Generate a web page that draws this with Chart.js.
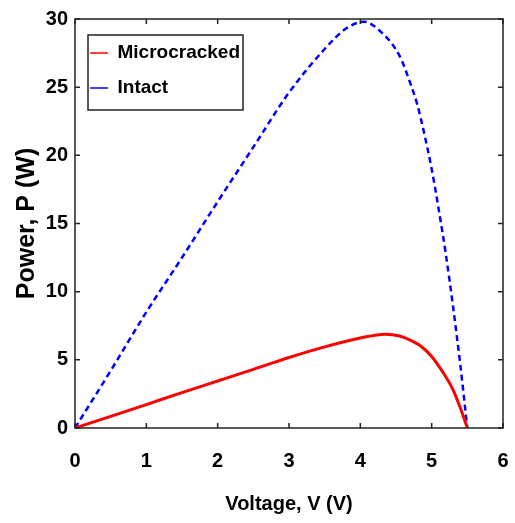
<!DOCTYPE html>
<html>
<head>
    <meta charset="utf-8">
    <title>Power vs Voltage</title>
    <script src="https://cdn.jsdelivr.net/npm/chart.js"></script>
    <style>
        body { margin: 0; background: #fff; }
        canvas { display: block; }
    </style>
</head>
<body>
    <canvas id="pvChart" width="515" height="523"></canvas>

    <script>
        // P-V curves
        const crackedV = [0, 0.5, 1.0, 1.5, 2.0, 2.5, 3.0, 3.5, 4.0, 4.35, 4.55, 4.7, 4.85, 5.0, 5.15, 5.3, 5.4, 5.5];
        const crackedP = [0, 0.85, 1.72, 2.6, 3.45, 4.3, 5.17, 5.95, 6.6, 6.88, 6.75, 6.45, 6.0, 5.25, 4.15, 2.8, 1.5, 0];

        const intactV = [0, 0.5, 1.0, 1.5, 2.0, 2.5, 3.0, 3.5, 3.8, 4.05, 4.3, 4.55, 4.7, 4.8, 4.9, 5.0, 5.1, 5.2, 5.3, 5.4, 5.5];
        const intactP = [0, 4.2, 8.5, 12.5, 16.6, 20.6, 24.6, 27.8, 29.3, 29.8, 29.0, 27.3, 25.3, 23.7, 21.5, 19.0, 16.0, 12.7, 8.9, 4.7, 0];

        const seriesNames = ['Microcracked', 'Intact'];
        const xTitle = 'Voltage, V (V)';
        const yTitle = 'Power, P (W)';

        const toPoints = (xs, ys) => xs.map((x, i) => ({ x: x, y: ys[i] }));

        Chart.defaults.font.family = '"Liberation Sans", Arial, Helvetica, sans-serif';
        Chart.defaults.color = '#000';

        // MATLAB style box with inward ticks + legend frame
        const framePlugin = {
            id: 'frame',
            afterLayout(chart) {
                const ca = chart.chartArea;
                const lg = chart.legend;
                lg.left = ca.left - 1;
                lg.top = ca.top + 8.5;
                lg.right = ca.right;
                lg.bottom = ca.bottom;
            },
            afterDraw(chart) {
                const { ctx, chartArea: ca, scales } = chart;
                ctx.save();
                ctx.strokeStyle = '#222';
                ctx.lineWidth = 1.5;
                ctx.strokeRect(ca.left, ca.top, ca.right - ca.left, ca.bottom - ca.top);
                ctx.beginPath();
                scales.x.ticks.forEach(t => {
                    const px = scales.x.getPixelForValue(t.value);
                    ctx.moveTo(px, ca.bottom); ctx.lineTo(px, ca.bottom - 5);
                    ctx.moveTo(px, ca.top); ctx.lineTo(px, ca.top + 5);
                });
                scales.y.ticks.forEach(t => {
                    const py = scales.y.getPixelForValue(t.value);
                    ctx.moveTo(ca.left, py); ctx.lineTo(ca.left + 5, py);
                    ctx.moveTo(ca.right, py); ctx.lineTo(ca.right - 5, py);
                });
                ctx.stroke();
                // legend frame
                ctx.strokeRect(ca.left + 13, ca.top + 16, 155, 75);
                ctx.restore();
            }
        };

        const ctx = document.getElementById('pvChart').getContext('2d');
        new Chart(ctx, {
            type: 'line',
            data: {
                datasets: [{
                    label: seriesNames[0],
                    data: toPoints(crackedV, crackedP),
                    borderColor: '#ff0000',
                    borderWidth: 3,
                    pointRadius: 0,
                    cubicInterpolationMode: 'monotone',
                    fill: false
                }, {
                    label: seriesNames[1],
                    data: toPoints(intactV, intactP),
                    borderColor: '#0000ff',
                    borderWidth: 2.5,
                    borderDash: [6, 4],
                    pointRadius: 0,
                    cubicInterpolationMode: 'monotone',
                    fill: false
                }]
            },
            options: {
                responsive: false,
                animation: false,
                layout: { padding: { left: 0, top: 19, right: 12, bottom: 0 } },
                plugins: {
                    tooltip: { enabled: false },
                    legend: {
                        position: 'chartArea',
                        align: 'start',
                        labels: {
                            usePointStyle: true,
                            pointStyle: 'line',
                            pointStyleWidth: 18,
                            padding: 16,
                            color: '#000',
                            font: { size: 19, weight: 'bold' },
                            generateLabels(chart) {
                                return Chart.defaults.plugins.legend.labels.generateLabels(chart)
                                    .map(l => Object.assign(l, { lineWidth: 1.5 }));
                            }
                        }
                    }
                },
                scales: {
                    x: {
                        type: 'linear',
                        min: 0,
                        max: 6,
                        grid: { display: false, drawTicks: true, tickLength: 18 },
                        border: { display: false },
                        ticks: { stepSize: 1, padding: 3, font: { size: 20, weight: 'bold' } },
                        title: {
                            display: true,
                            text: xTitle,
                            font: { size: 20, weight: 'bold' },
                            padding: { top: 0, bottom: 7 }
                        },
                        afterFit(scale) { scale.height = 95; }
                    },
                    y: {
                        min: 0,
                        max: 30,
                        grid: { display: false, drawTicks: false },
                        border: { display: false },
                        ticks: { stepSize: 5, padding: 7, font: { size: 20, weight: 'bold' } },
                        title: {
                            display: true,
                            text: yTitle,
                            font: { size: 25, weight: 'bold' },
                            padding: { top: 12, bottom: 0 }
                        },
                        afterFit(scale) { scale.width = 75; }
                    }
                }
            },
            plugins: [framePlugin]
        });
    </script>
</body>
</html>
